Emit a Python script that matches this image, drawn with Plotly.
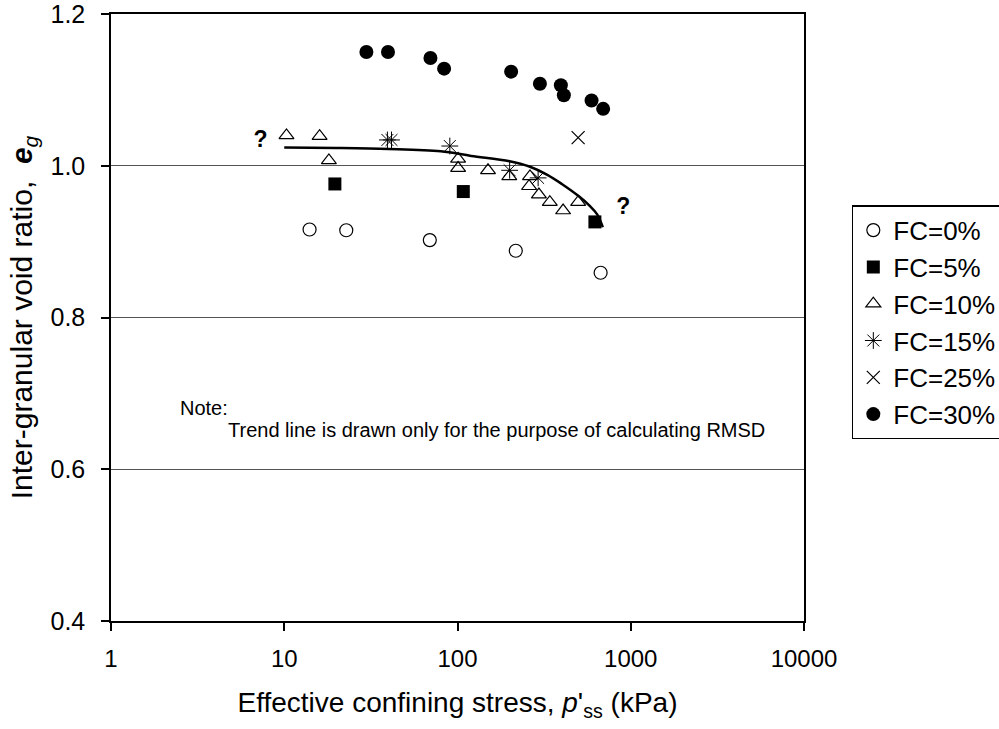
import plotly.graph_objects as go

# ---- data ----
fc0_p = [14.0, 22.8, 69.2, 217, 670]
fc0_e = [0.916, 0.915, 0.902, 0.888, 0.859]

fc5_p = [19.6, 108, 621]
fc5_e = [0.976, 0.966, 0.926]

fc10_p = [10.3, 16.0, 18.1, 100.8, 100.8, 150, 199, 262, 259, 295, 341, 407, 497]
fc10_e = [1.040, 1.039, 1.007, 1.009, 0.997, 0.994, 0.986, 0.986, 0.973, 0.962, 0.952, 0.941, 0.952]

fc15_p = [39.4, 41.6, 90.3, 200, 292]
fc15_e = [1.034, 1.034, 1.026, 0.994, 0.984]

fc25_p = [497]
fc25_e = [1.037]

fc30_p = [29.8, 39.7, 69.8, 83.7, 204, 299, 395, 411, 594, 693]
fc30_e = [1.150, 1.150, 1.142, 1.128, 1.124, 1.108, 1.106, 1.093, 1.086, 1.075]

trend_p = [10, 20, 40, 80, 120, 200, 260, 330, 400, 500, 580, 640, 690]
trend_e = [1.024, 1.0235, 1.0222, 1.019, 1.013, 1.006, 0.999, 0.988, 0.976, 0.960, 0.947, 0.936, 0.919]

q_p = [7.3, 905]
q_e = [1.032, 0.9445]

x_ticks = [1, 10, 100, 1000, 10000]
x_ticktext = ["1", "10", "100", "1000", "10000"]
y_ticks = [0.4, 0.6, 0.8, 1.0, 1.2]
y_ticktext = ["0.4", "0.6", "0.8", "1.0", "1.2"]

FONT = "Arial, Liberation Sans, sans-serif"

fig = go.Figure()

fig.add_trace(go.Scatter(x=trend_p, y=trend_e, mode="lines", line=dict(color="black", width=2.5, shape="spline"),
                         showlegend=False, hoverinfo="skip"))

def mk(symbol, size, width=1.2):
    return dict(symbol=symbol, size=size, color="black", line=dict(color="black", width=width))

fig.add_trace(go.Scatter(x=fc0_p, y=fc0_e, mode="markers", name="FC=0%", marker=mk("circle-open", 13)))
fig.add_trace(go.Scatter(x=fc5_p, y=fc5_e, mode="markers", name="FC=5%", marker=mk("square", 13, 0)))
fig.add_trace(go.Scatter(x=fc10_p, y=fc10_e, mode="markers", name="FC=10%", marker=mk("triangle-up-open", 13)))
fig.add_trace(go.Scatter(x=fc15_p, y=fc15_e, mode="markers", name="FC=15%", marker=mk("asterisk-open", 14, 1)))
fig.add_trace(go.Scatter(x=fc25_p, y=fc25_e, mode="markers", name="FC=25%", marker=mk("x-thin-open", 13, 1.2)))
fig.add_trace(go.Scatter(x=fc30_p, y=fc30_e, mode="markers", name="FC=30%", marker=mk("circle", 14, 0)))

fig.add_trace(go.Scatter(x=q_p, y=q_e, mode="text", text=["<b>?</b>", "<b>?</b>"],
                         textfont=dict(family=FONT, size=23, color="black"), showlegend=False, hoverinfo="skip"))

axis_common = dict(showline=True, linecolor="black", linewidth=1.5, mirror=True,
                   ticks="outside", ticklen=8, tickwidth=1.5, tickcolor="black", zeroline=False,
                   ticklabeloverflow="allow")

fig.update_xaxes(type="log", range=[0, 4], tickvals=x_ticks, ticktext=x_ticktext, showgrid=False,
                 ticklabelstandoff=7, tickfont=dict(family=FONT, size=24, color="black"),
                 title=dict(text="Effective confining stress, <i>p</i>'<sub>ss</sub> (kPa)",
                            font=dict(family=FONT, size=28, color="black"), standoff=22),
                 **axis_common)
fig.update_yaxes(range=[0.4, 1.2], tickvals=y_ticks, ticktext=y_ticktext, showgrid=True,
                 gridcolor="#555555", gridwidth=1.2, ticklabelstandoff=11,
                 tickfont=dict(family=FONT, size=25, color="black"),
                 title=dict(text="Inter-granular void ratio,  <b><i>e</i></b><sub><i>g</i></sub>",
                            font=dict(family=FONT, size=30, color="black"), standoff=9),
                 **axis_common)

fig.add_annotation(text="Note:", xref="paper", yref="paper", x=0.0967, y=0.3509,
                   xanchor="left", yanchor="middle", showarrow=False,
                   font=dict(family=FONT, size=20, color="black"))
fig.add_annotation(text="Trend line is drawn only for the purpose of calculating RMSD", xref="paper", yref="paper",
                   x=0.166, y=0.3147, xanchor="left", yanchor="middle", showarrow=False,
                   font=dict(family=FONT, size=20, color="black"))

fig.update_layout(
    width=999, height=729,
    margin=dict(l=111, r=195, t=14, b=108, autoexpand=False),
    paper_bgcolor="white", plot_bgcolor="white",
    font=dict(family=FONT, color="black"),
    legend=dict(x=1.069, y=0.685, xanchor="left", yanchor="top",
                bordercolor="black", borderwidth=1.5, bgcolor="white",
                font=dict(family=FONT, size=26, color="black"), tracegroupgap=0),
)

fig.write_html("out.html")
